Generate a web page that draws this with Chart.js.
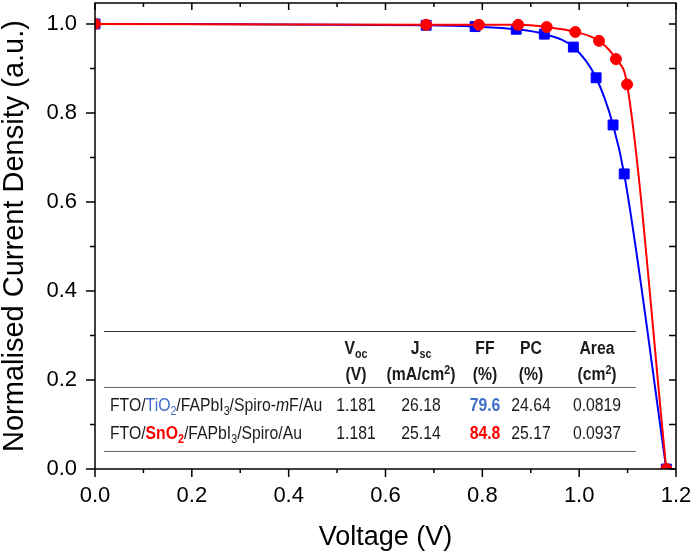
<!DOCTYPE html>
<html>
<head>
<meta charset="utf-8">
<script src="https://cdn.jsdelivr.net/npm/chart.js@4.4.1/dist/chart.umd.min.js"></script>
<style>
  html, body { margin: 0; padding: 0; background: #fff; }
  #wrap { position: relative; width: 693px; height: 555px; font-family: 'Liberation Sans', Arial, sans-serif; color: #1a1a1a; }
  #chart { position: absolute; left: 0; top: 0; }
  .cell { position: absolute; font-size: 17.5px; line-height: 1; white-space: nowrap; transform: translate(-50%, -50%) scaleX(0.9); }
  .lab { transform: translate(0, -50%) scaleX(0.9); transform-origin: left center; }
  .hd { font-weight: bold; }
  .rule { position: absolute; height: 0; }
  sub, sup { font-size: 68%; line-height: 0; }
  sub { vertical-align: -0.3em; }
  sup { vertical-align: 0.5em; }
</style>
</head>
<body>
<div id="wrap">
  <canvas id="chart" width="693" height="555"></canvas>
  <div id="tbl"></div>
</div>
<script>
// ============ DATA ============
// TiO2 device (blue squares)
var tioVoltage = [0.000, 0.684, 0.785, 0.870, 0.928, 0.988, 1.035, 1.070, 1.093, 1.180];
var tioCurrent = [1.000, 0.997, 0.994, 0.988, 0.977, 0.948, 0.879, 0.773, 0.663, 0.000];
// SnO2 device (red circles)
var snoVoltage = [0.000, 0.684, 0.793, 0.874, 0.933, 0.992, 1.041, 1.076, 1.099, 1.180];
var snoCurrent = [1.000, 0.998, 0.998, 0.998, 0.993, 0.982, 0.962, 0.921, 0.864, 0.000];

var xTicks = [0.0, 0.2, 0.4, 0.6, 0.8, 1.0, 1.2];
var yTicks = [0.0, 0.2, 0.4, 0.6, 0.8, 1.0];

// inset table
var tableHead1 = ['V<sub>oc</sub>', 'J<sub>sc</sub>', 'FF', 'PC', 'Area'];
var tableHead2 = ['(V)', '(mA/cm<sup>2</sup>)', '(%)', '(%)', '(cm<sup>2</sup>)'];
var tableRowLabels = [
  'FTO/<span style="color:#3f6fc6">TiO<sub>2</sub></span>/FAPbI<sub>3</sub>/Spiro-<i>m</i>F/Au',
  'FTO/<b style="color:#ff0000">SnO<sub>2</sub></b>/FAPbI<sub>3</sub>/Spiro/Au'
];
var tableVoc  = ['1.181', '1.181'];
var tableJsc  = ['26.18', '25.14'];
var tableFF   = ['79.6', '84.8'];
var tablePC   = ['24.64', '25.17'];
var tableArea = ['0.0819', '0.0937'];

function toPoints(xs, ys) {
  return xs.map(function(x, i) { return { x: x, y: ys[i] }; });
}

// ============ FRAME + TICKS ============
var framePlugin = {
  id: 'frame',
  afterDraw: function(chart) {
    var a = chart.chartArea, ctx = chart.ctx;
    var xs = chart.scales.x, ys = chart.scales.y;
    ctx.save();
    ctx.strokeStyle = '#000';
    ctx.lineWidth = 1.5;
    ctx.strokeRect(a.left, a.top, a.right - a.left, a.bottom - a.top);
    ctx.beginPath();
    for (var i = 0; i <= 12; i++) {
      var px = xs.getPixelForValue(i / 10);
      var major = i % 2 === 0;
      ctx.moveTo(px, a.bottom); ctx.lineTo(px, a.bottom + (major ? 8 : 4));
      ctx.moveTo(px, a.top);    ctx.lineTo(px, a.top + (major ? 7 : 4));
    }
    for (var j = 0; j <= 10; j++) {
      var py = ys.getPixelForValue(j / 10);
      var maj = j % 2 === 0;
      ctx.moveTo(a.left, py);  ctx.lineTo(a.left - (maj ? 9 : 5), py);
      ctx.moveTo(a.right, py); ctx.lineTo(a.right - 7, py);
    }
    ctx.stroke();
    ctx.restore();
  }
};

var tickFont = { family: "'Liberation Sans', Arial, sans-serif", size: 22 };
var xTitleFont = { family: "'Liberation Sans', Arial, sans-serif", size: 27, lineHeight: 1 };
var yTitleFont = { family: "'Liberation Sans', Arial, sans-serif", size: 29, lineHeight: 1 };

new Chart(document.getElementById('chart'), {
  type: 'scatter',
  data: {
    datasets: [{
      label: 'SnO2',
      data: toPoints(snoVoltage, snoCurrent),
      showLine: true,
      borderColor: '#ff0000',
      backgroundColor: '#ff0000',
      borderWidth: 2,
      pointStyle: 'circle',
      pointRadius: 5.5,
      pointBorderWidth: 1,
      cubicInterpolationMode: 'monotone',
      clip: 0
    }, {
      label: 'TiO2',
      data: toPoints(tioVoltage, tioCurrent),
      showLine: true,
      borderColor: '#0000ff',
      backgroundColor: '#0000ff',
      borderWidth: 2,
      pointStyle: 'rect',
      pointRadius: 7,
      pointBorderWidth: 1,
      cubicInterpolationMode: 'monotone',
      clip: 0
    }]
  },
  options: {
    responsive: false,
    animation: false,
    devicePixelRatio: 1,
    layout: { autoPadding: false, padding: { top: 3, right: 17, left: 0, bottom: 0 } },
    plugins: { legend: { display: false }, tooltip: { enabled: false } },
    scales: {
      x: {
        type: 'linear',
        min: 0, max: 1.2,
        afterFit: function(s) { s.height = 86; s.paddingLeft = 0; s.paddingRight = 0; },
        afterBuildTicks: function(s) { s.ticks = xTicks.map(function(v) { return { value: v }; }); },
        grid: { display: false, drawTicks: false },
        border: { display: false },
        ticks: {
          color: '#000', font: tickFont, padding: 14, maxRotation: 0,
          callback: function(v) { return v.toFixed(1); }
        },
        title: { display: true, text: 'Voltage (V)', color: '#000', font: xTitleFont, padding: { top: 0, bottom: 4 } }
      },
      y: {
        type: 'linear',
        min: 0, max: 1.047,
        afterFit: function(s) { s.width = 95; s.paddingTop = 0; s.paddingBottom = 0; },
        afterBuildTicks: function(s) { s.ticks = yTicks.map(function(v) { return { value: v }; }); },
        grid: { display: false, drawTicks: false },
        border: { display: false },
        ticks: {
          color: '#000', font: tickFont, padding: 18,
          callback: function(v) { return v.toFixed(1); }
        },
        title: { display: true, text: 'Normalised Current Density (a.u.)', color: '#000', font: yTitleFont, padding: { top: 0, bottom: 0 } }
      }
    }
  },
  plugins: [framePlugin]
});

// ============ INSET TABLE ============
var tbl = document.getElementById('tbl');
var colX = [356, 421, 485, 531, 597];
var rowY = [406, 434];

function addCell(html, x, y, cls) {
  var d = document.createElement('div');
  d.className = 'cell ' + (cls || '');
  d.style.left = x + 'px';
  d.style.top = y + 'px';
  d.innerHTML = html;
  tbl.appendChild(d);
}
function addRule(y, color) {
  var r = document.createElement('div');
  r.className = 'rule';
  r.style.left = '104px';
  r.style.width = '532px';
  r.style.top = y + 'px';
  r.style.borderTop = '1.5px solid ' + color;
  tbl.appendChild(r);
}

addRule(331, '#3a2c3c');
addRule(387, '#6a6a6a');
addRule(451, '#6a6a6a');

tableHead1.forEach(function(h, i) { addCell(h, colX[i], 349, 'hd'); });
tableHead2.forEach(function(h, i) { addCell(h, colX[i], 375, 'hd'); });

var ffColors = ['#3f6fc6', '#ff0000'];
rowY.forEach(function(y, r) {
  addCell(tableRowLabels[r], 110, y, 'lab');
  addCell(tableVoc[r], colX[0], y);
  addCell(tableJsc[r], colX[1], y);
  addCell('<b style="color:' + ffColors[r] + '">' + tableFF[r] + '</b>', colX[2], y);
  addCell(tablePC[r], colX[3], y);
  addCell(tableArea[r], colX[4], y);
});
</script>
</body>
</html>
